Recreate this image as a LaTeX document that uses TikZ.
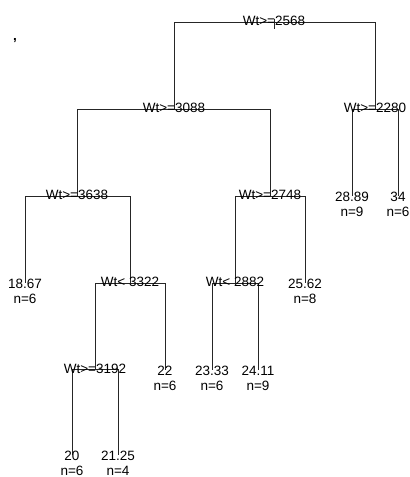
\documentclass[tikz,border=0pt]{standalone}
\usepackage{fontspec}
\setmainfont{Liberation Sans}
\begin{document}
\begin{tikzpicture}[x=1pt,y=-1pt,
  edge/.style={draw=black!85,line width=0.6pt},
  splitlab/.style={anchor=base,inner sep=0pt,font=\fontsize{13.5}{16}\selectfont},
  leaflab/.style={anchor=base,inner sep=0pt,font=\fontsize{13.5}{16}\selectfont}]
\useasboundingbox (0,0) rectangle (410,477);
% tree positions
\coordinate (n1) at (274,22);
\coordinate (n2) at (174,109);
\coordinate (n3) at (375,109);
\coordinate (n4) at (77,196);
\coordinate (n5) at (270,196);
\coordinate (l28) at (352,196);
\coordinate (l34) at (398,196);
\coordinate (l18) at (25,283);
\coordinate (n8) at (130,283);
\coordinate (n10) at (235,283);
\coordinate (l25) at (305,283);
\coordinate (n16) at (95,369.5);
\coordinate (l22) at (165,369.5);
\coordinate (l23) at (212,369.5);
\coordinate (l24) at (258,369.5);
\coordinate (l20) at (72,455);
\coordinate (l21) at (118,455);
\coordinate (tick1) at (274,18.5);
\coordinate (tick2) at (274,29);
% connectors
\draw[edge] (tick1) -- (tick2);
\draw[edge] (n1) -| (n2);
\draw[edge] (n1) -| (n3);
\draw[edge] (n2) -| (n4);
\draw[edge] (n2) -| (n5);
\draw[edge] (n3) -| (l28);
\draw[edge] (n3) -| (l34);
\draw[edge] (n4) -| (l18);
\draw[edge] (n4) -| (n8);
\draw[edge] (n5) -| (n10);
\draw[edge] (n5) -| (l25);
\draw[edge] (n8) -| (n16);
\draw[edge] (n8) -| (l22);
\draw[edge] (n10) -| (l23);
\draw[edge] (n10) -| (l24);
\draw[edge] (n16) -| (l20);
\draw[edge] (n16) -| (l21);
% split labels
\node[splitlab] (s1) at ([yshift=-3.5pt]n1) {Wt>=2568};
\node[splitlab] (s2) at ([yshift=-3.5pt]n2) {Wt>=3088};
\node[splitlab] (s3) at ([yshift=-3.5pt]n3) {Wt>=2280};
\node[splitlab] (s4) at ([yshift=-3.5pt]n4) {Wt>=3638};
\node[splitlab] (s5) at ([yshift=-3.5pt]n5) {Wt>=2748};
\node[splitlab] (s8) at ([yshift=-3.5pt]n8) {Wt<\ 3322};
\node[splitlab] (s10) at ([yshift=-3.5pt]n10) {Wt<\ 2882};
\node[splitlab] (s16) at ([yshift=-3.5pt]n16) {Wt>=3192};
% leaf labels
\foreach \c/\v/\n in {l28/28.89/9, l34/34/6, l18/18.67/6, l25/25.62/8,
  l22/22/6, l23/23.33/6, l24/24.11/9, l20/20/6, l21/21.25/4}{
  \node[leaflab] (\c v) at ([yshift=-5.5pt]\c) {\v};
  \node[leaflab] (\c n) at ([yshift=-20.5pt]\c) {n=\n};
}
% stray mark
\node[anchor=base,inner sep=0pt,font=\fontsize{13.5}{16}\selectfont\bfseries] (comma) at (15,40) {,};
\end{tikzpicture}
\end{document}
